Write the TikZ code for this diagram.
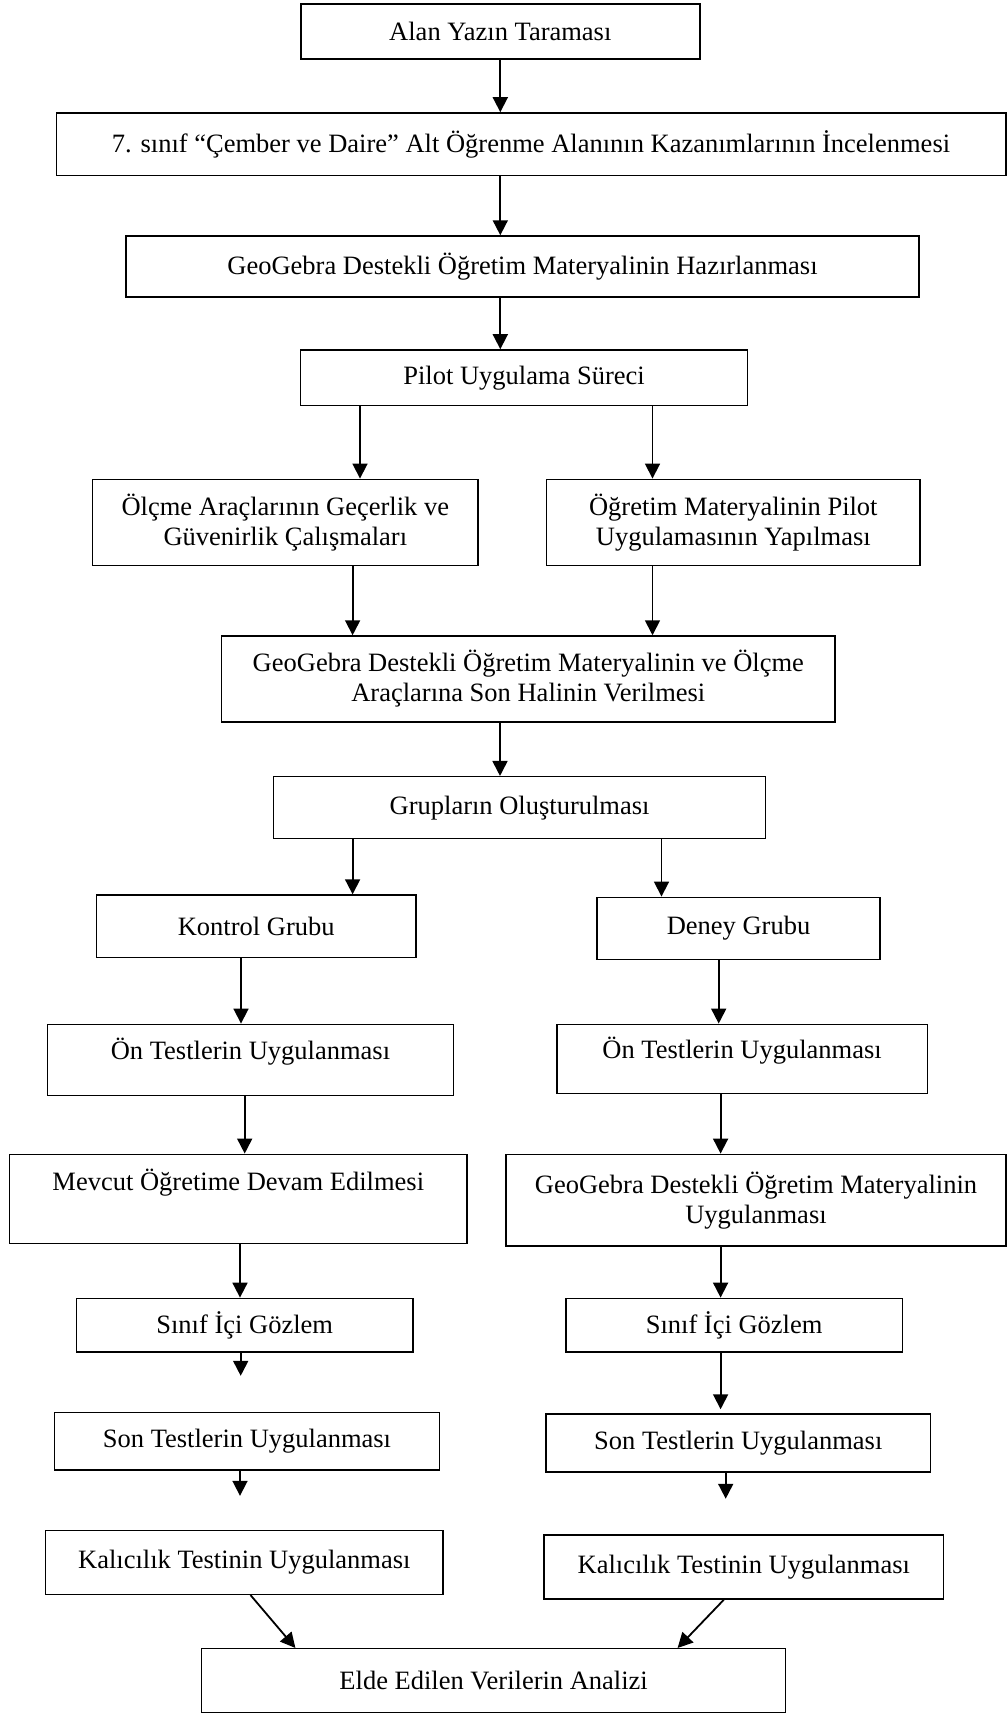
\documentclass[tikz,border=0pt]{standalone}
\usepackage{fontspec}
\setmainfont{Liberation Serif}
\usetikzlibrary{arrows.meta}

\tikzstyle{stepbox} = [rectangle, line width=1.5pt, text centered, align=center, draw=black, fill=white, inner sep=0pt]
\tikzstyle{arrow} = [line width=1.8pt,->,>={Triangle[length=15pt,width=15pt]}]

\begin{document}
\begin{tikzpicture}[node distance=120pt, font=\fontsize{26.5}{30}\selectfont]
    \useasboundingbox (0,0) rectangle (1007pt,-1713pt);
    \node (lit)[stepbox, minimum width=399pt, minimum height=55pt] at (500.3pt,-31.7pt) {Alan Yazın Taraması};
    \node (kazanim)[stepbox, below of=lit, yshift=7.4pt, xshift=30.7pt, minimum width=949.5pt, minimum height=62.7pt] {7. sınıf “Çember ve Daire” Alt Öğrenme Alanının Kazanımlarının İncelenmesi};
    \node (materyal)[stepbox, below of=kazanim, yshift=-2.2pt, xshift=-8.5pt, minimum width=793pt, minimum height=61pt] {GeoGebra Destekli Öğretim Materyalinin Hazırlanması};
    \node (pilot)[stepbox, below of=materyal, yshift=8.7pt, xshift=1.5pt, minimum width=447pt, minimum height=55.7pt] {Pilot Uygulama Süreci};

    \node (olcme)[stepbox, below of=pilot, yshift=-24.7pt, xshift=-238.7pt, minimum width=385.5pt, minimum height=86.4pt] {Ölçme Araçlarının Geçerlik ve \\ Güvenirlik Çalışmaları};
    \node (pilotuyg)[stepbox, right of=olcme, xshift=328pt, minimum width=373.5pt, minimum height=86.4pt] {Öğretim Materyalinin Pilot \\ Uygulamasının Yapılması};
    \node (sonhal)[stepbox, below of=pilot, yshift=-181.2pt, xshift=4.3pt, minimum width=613.4pt, minimum height=86pt] {GeoGebra Destekli Öğretim Materyalinin ve Ölçme \\ Araçlarına Son Halinin Verilmesi};
    \node (gruplar)[stepbox, below of=sonhal, yshift=-8.7pt, xshift=-8.7pt, minimum width=492pt, minimum height=62pt] {Grupların Oluşturulması};

    \node (kontrol)[stepbox, below of=gruplar, yshift=1.5pt, xshift=-263.4pt, minimum width=319.7pt, minimum height=62.3pt] {Kontrol Grubu};
    \node (deney)[stepbox, right of=kontrol, yshift=-2.1pt, xshift=362.3pt, minimum width=283pt, minimum height=62pt] {Deney Grubu};
    \node (onK)[stepbox, below of=kontrol, yshift=-13.8pt, xshift=-5.7pt, minimum width=406pt, minimum height=71.4pt, text depth=22pt] {Ön Testlerin Uygulanması};
    \node (onD)[stepbox, below of=deney, yshift=-10.7pt, xshift=3.6pt, minimum width=370.6pt, minimum height=69.4pt, text depth=22pt] {Ön Testlerin Uygulanması};
    \node (mevcut)[stepbox, below of=onK, yshift=-18.8pt, xshift=-12.2pt, minimum width=457.4pt, minimum height=89pt, text depth=38pt] {Mevcut Öğretime Devam Edilmesi};
    \node (uygD)[stepbox, below of=onD, yshift=-21.2pt, xshift=13.9pt, minimum width=500pt, minimum height=91.7pt] {GeoGebra Destekli Öğretim Materyalinin \\ Uygulanması};
    \node (sinifK)[stepbox, below of=mevcut, yshift=-6.4pt, xshift=6.4pt, minimum width=336.6pt, minimum height=53.7pt] {Sınıf İçi Gözlem};
    \node (sinifD)[stepbox, below of=uygD, yshift=-5pt, xshift=-21.9pt, minimum width=336.6pt, minimum height=53.7pt] {Sınıf İçi Gözlem};
    \node (sonK)[stepbox, below of=sinifK, yshift=4pt, xshift=2.3pt, minimum width=384.7pt, minimum height=57.7pt] {Son Testlerin Uygulanması};
    \node (sonD)[stepbox, below of=sinifD, yshift=2.2pt, xshift=4.2pt, minimum width=384.6pt, minimum height=58pt] {Son Testlerin Uygulanması};
    \node (kalK)[stepbox, below of=sonK, yshift=-1.1pt, xshift=-2.7pt, minimum width=397.4pt, minimum height=64pt] {Kalıcılık Testinin Uygulanması};
    \node (kalD)[stepbox, below of=sonD, yshift=-4pt, xshift=5.5pt, minimum width=399.5pt, minimum height=64pt] {Kalıcılık Testinin Uygulanması};
    \node (analiz)[stepbox, below of=kalK, yshift=1.6pt, xshift=249.3pt, minimum width=583.8pt, minimum height=64pt] {Elde Edilen Verilerin Analizi};

    \coordinate (endK1) at ([xshift=-4pt,yshift=-23pt]sinifK.south);
    \coordinate (endK2) at ([xshift=-7pt,yshift=-25pt]sonK.south);
    \coordinate (endD2) at ([xshift=-12.6pt,yshift=-26pt]sonD.south);

    \draw [arrow] (lit) -- (lit |- kazanim.north);
    \draw [arrow] (kazanim.south -| lit) -- (materyal.north -| lit);
    \draw [arrow] (materyal.south -| lit) -- (pilot.north -| lit);
    \draw [arrow] ([xshift=-164pt]pilot.south) -- ([xshift=-164pt]pilot.south |- olcme.north);
    \draw [arrow] ([xshift=128.5pt]pilot.south) -- ([xshift=128.5pt]pilot.south |- pilotuyg.north);
    \draw [arrow] ([xshift=67.3pt]olcme.south) -- ([xshift=67.3pt]olcme.south |- sonhal.north);
    \draw [arrow] ([xshift=-80.8pt]pilotuyg.south) -- ([xshift=-80.8pt]pilotuyg.south |- sonhal.north);
    \draw [arrow] ([xshift=-28.3pt]sonhal.south) -- ([xshift=-28.3pt]sonhal.south |- gruplar.north);
    \draw [arrow] ([xshift=-167pt]gruplar.south) -- ([xshift=-167pt]gruplar.south |- kontrol.north);
    \draw [arrow] ([xshift=141.9pt]gruplar.south) -- ([xshift=141.9pt]gruplar.south |- deney.north);

    \draw [arrow] ([xshift=-15.2pt]kontrol.south) -- ([xshift=-15.2pt]kontrol.south |- onK.north);
    \draw [arrow] ([xshift=-19.8pt]deney.south) -- ([xshift=-19.8pt]deney.south |- onD.north);
    \draw [arrow] ([xshift=-5.8pt]onK.south) -- ([xshift=-5.8pt]onK.south |- mevcut.north);
    \draw [arrow] ([xshift=-21.5pt]onD.south) -- ([xshift=-21.5pt]onD.south |- uygD.north);
    \draw [arrow] ([xshift=1.7pt]mevcut.south) -- ([xshift=1.7pt]mevcut.south |- sinifK.north);
    \draw [arrow] ([xshift=-35.4pt]uygD.south) -- ([xshift=-35.4pt]uygD.south |- sinifD.north);
    \draw [arrow] ([xshift=-4pt]sinifK.south) -- (endK1);
    \draw [arrow] ([xshift=-13.5pt]sinifD.south) -- ([xshift=-13.5pt,yshift=4pt]sinifD.south |- sonD.north);
    \draw [arrow] ([xshift=-7pt]sonK.south) -- (endK2);
    \draw [arrow] ([xshift=-12.6pt]sonD.south) -- (endD2);
    \draw [arrow] ([xshift=6.2pt]kalK.south) -- ([xshift=-198.2pt]analiz.north);
    \draw [arrow] ([xshift=-20pt]kalD.south) -- ([xshift=184pt]analiz.north);
  \end{tikzpicture}
\end{document}
